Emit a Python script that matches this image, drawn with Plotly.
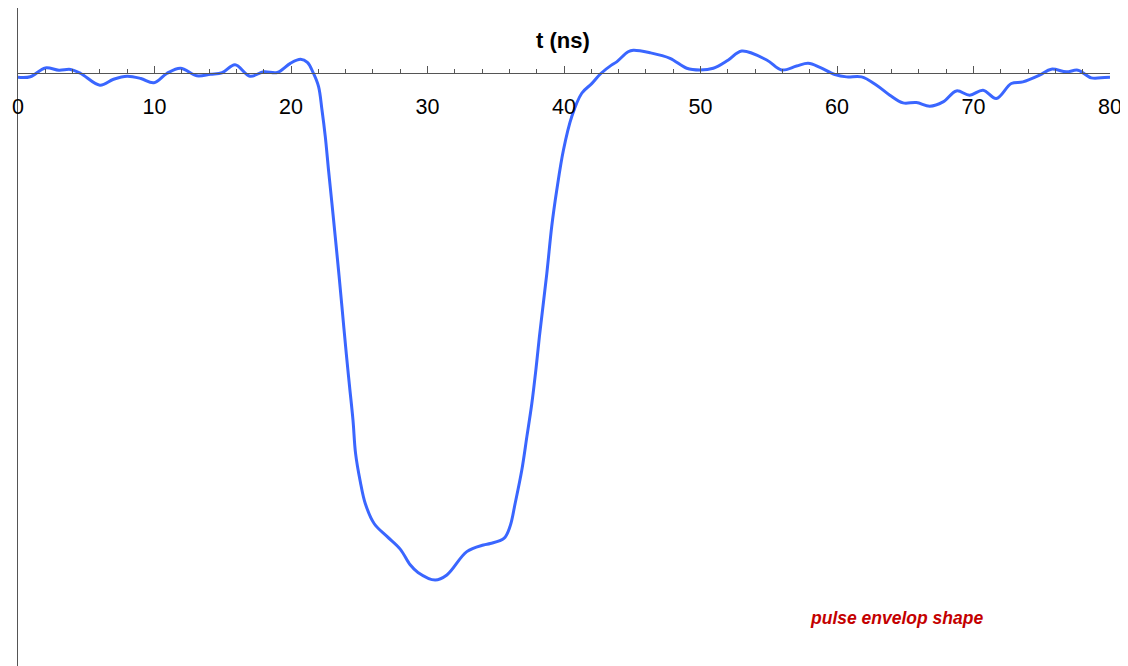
import plotly.graph_objects as go

# time (ns)
t_ns = [0, 0.9, 2.0, 3.0, 3.85, 4.6, 6.0, 7.0, 8.0, 9.0, 9.95, 10.9, 11.9, 13.1, 14.1,
        14.95, 15.9, 17.0, 18.0, 19.0, 19.95, 20.7, 21.2, 21.65, 22.02, 22.27, 22.51,
        22.75, 23.0, 23.24, 23.48, 23.73, 24.05, 24.29, 24.54, 24.73, 25.07, 25.44,
        26.1, 27.03, 28.0, 28.73, 29.3, 30.56, 31.42, 32.88, 34.1, 34.6, 35.6, 36.05,
        36.42, 36.91, 37.28, 37.64, 37.94, 38.2, 38.74, 39.1, 39.47, 39.96,
        40.57, 41.3, 42.03, 42.7, 43.5, 43.86, 44.7, 45.08, 46.3, 47.77, 48.99, 49.96,
        50.94, 52.04, 53.02, 54.85, 55.94, 57.04, 57.89, 58.75, 59.85, 60.7, 61.8,
        62.9, 63.87, 64.84, 65.82, 66.8, 67.77, 68.75, 69.72, 70.7, 71.67, 72.77,
        73.62, 74.84, 75.7, 76.8, 77.65, 78.63, 79.6, 80]

# pulse envelope amplitude (normalised, min = -1)
amp = [-0.0075, -0.0065, 0.011, 0.0065, 0.008, 0.0, -0.023, -0.0113, -0.0053, -0.0099,
       -0.0184, 0.0, 0.0103, -0.0045, -0.0014, 0.0014, 0.0172, -0.0053, 0.0034, 0.002,
       0.0201, 0.028, 0.0221, 0.0, -0.026, -0.072, -0.124, -0.191, -0.257, -0.322,
       -0.388, -0.46, -0.553, -0.618, -0.684, -0.75, -0.805, -0.849, -0.889, -0.914,
       -0.939, -0.97, -0.985, -1.0, -0.99, -0.944, -0.931, -0.928, -0.918, -0.894,
       -0.849, -0.783, -0.717, -0.652, -0.585, -0.519, -0.395, -0.302, -0.23,
       -0.151, -0.085, -0.039, -0.02, 0.0, 0.017, 0.023, 0.043, 0.046, 0.041, 0.03,
       0.0103, 0.0069, 0.0103, 0.0267, 0.0444, 0.0267, 0.0069, 0.0148, 0.0201, 0.0122,
       -0.002, -0.0067, -0.0067, -0.0231, -0.0428, -0.058, -0.0573, -0.0646, -0.0561,
       -0.0344, -0.0428, -0.033, -0.0494, -0.0197, -0.0166, -0.0034, 0.0085, 0.0032,
       0.0065, -0.0087, -0.0079, -0.0075]

x_ticks = [0, 10, 20, 30, 40, 50, 60, 70, 80]

# page is offset by the default 8px body margin
FIG_W, FIG_H = 1120, 658
ML, MR, MT, MB = 9.5, 18, 0, 0
y_min, y_max = -1.1698, 0.1293
axis_pos = (0 - y_min) / (y_max - y_min)
font_family = "Liberation Sans, Arial, sans-serif"
axis_color = "#555555"

fig = go.Figure()
fig.add_trace(go.Scatter(
    x=t_ns, y=amp, mode="lines",
    line=dict(color="#3A66FF", width=3, shape="spline", smoothing=1.0),
    showlegend=False, hoverinfo="skip",
))

fig.update_layout(
    width=FIG_W, height=FIG_H,
    margin=dict(l=ML, r=MR, t=MT, b=MB, autoexpand=False),
    paper_bgcolor="white", plot_bgcolor="white",
    font=dict(family=font_family, size=21, color="black"),
    xaxis=dict(
        range=[0, 80], anchor="free", position=axis_pos,
        showgrid=False, zeroline=False,
        showline=True, linecolor=axis_color, linewidth=1.3,
        tickmode="array", tickvals=x_ticks, ticktext=[str(v) for v in x_ticks],
        ticks="inside", ticklen=7, tickwidth=1.2, tickcolor=axis_color,
        tickfont=dict(size=21.5, color="black", family=font_family),
        ticklabelstandoff=14,
        minor=dict(dtick=2, tick0=0, ticks="inside", ticklen=4, tickwidth=1,
                   tickcolor=axis_color, showgrid=False),
    ),
    yaxis=dict(
        range=[y_min, y_max], showgrid=False, zeroline=False,
        showline=True, linecolor=axis_color, linewidth=1.3,
        ticks="", showticklabels=False,
    ),
    annotations=[
        dict(text="<b>t (ns)</b>", x=39.9, y=0.0642,
             xref="x", yref="y", showarrow=False,
             font=dict(size=22, color="black", family=font_family),
             xanchor="center", yanchor="middle"),
        dict(text="<b><i>pulse envelop shape</i></b>", x=64.35, y=-1.0749,
             xref="x", yref="y", showarrow=False,
             font=dict(size=17.5, color="#C40000", family=font_family),
             xanchor="center", yanchor="middle"),
    ],
)

fig.write_html("out.html")
